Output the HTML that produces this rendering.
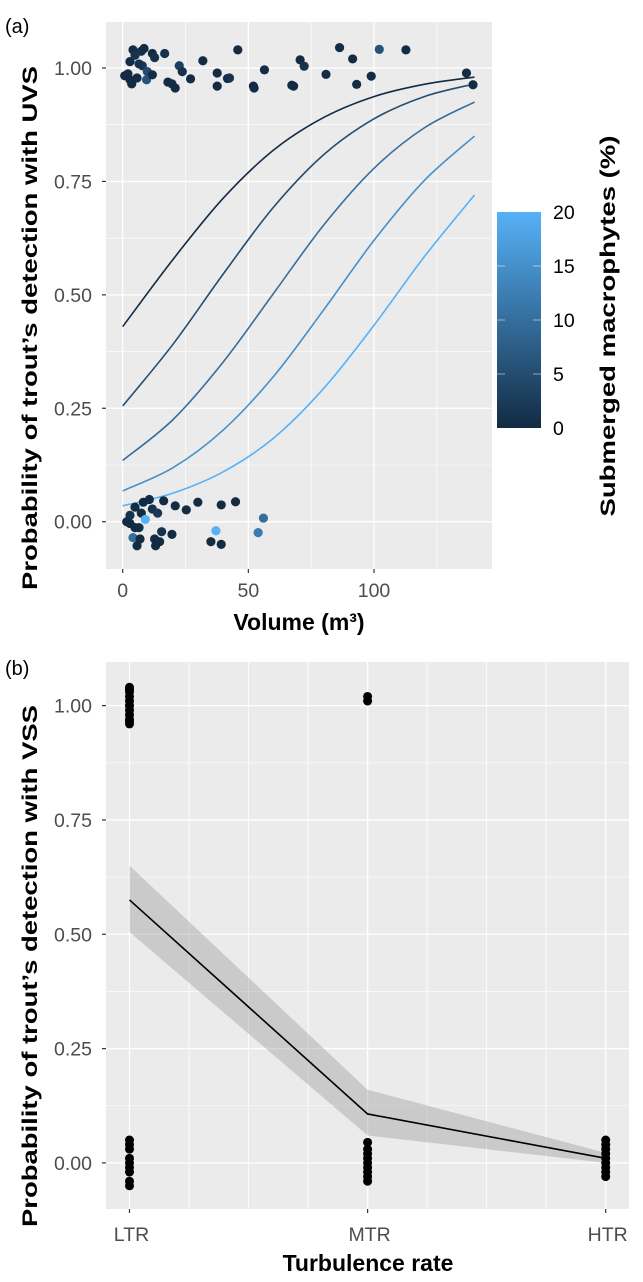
<!DOCTYPE html>
<html><head><meta charset="utf-8"><style>
html,body{margin:0;padding:0;background:#fff;}
svg{display:block;font-family:"Liberation Sans",Arial,sans-serif;}
</style></head><body>
<svg id="fig" width="643" height="1282" viewBox="0 0 643 1282">
<defs><linearGradient id="cg" x1="0" y1="1" x2="0" y2="0"><stop offset="0" stop-color="#132B43"/><stop offset="1" stop-color="#56B1F7"/></linearGradient></defs>
<g id="pa"></g>
<g id="pb"></g>
</svg>
<script>
// ---- Panel A data ----
const curveVolumes=[0,20,40,60,80,100,120,140];
const curveMacro=[0,5,10,15,20];
const curve0=[0.43,0.578,0.713,0.819,0.891,0.937,0.964,0.980];
const curve5=[0.255,0.391,0.546,0.693,0.809,0.888,0.937,0.965];
const curve10=[0.135,0.225,0.352,0.503,0.654,0.779,0.868,0.925];
const curve15=[0.068,0.119,0.202,0.320,0.467,0.620,0.752,0.850];
const curve20=[0.035,0.063,0.110,0.184,0.294,0.433,0.584,0.720];
const ptVolume=[2.1,2.9,4.1,4.9,2.9,3.6,7.4,8.5,7.8,9.8,9.5,11.8,12.7,11.8,16.7,18.0,19.6,20.9,22.5,23.7,27.0,31.9,37.6,37.6,41.7,42.5,45.8,52.0,52.3,56.4,67.3,68.0,70.6,72.2,80.9,86.3,91.5,93.1,98.9,102.1,112.7,136.8,139.4,5.7,6.5,0.8,
1.6,2.9,4.1,4.9,5.7,6.5,6.9,7.4,8.2,9.0,10.6,11.8,12.7,13.1,13.9,14.7,15.5,16.3,19.6,20.9,25.3,29.9,35.1,37.1,39.2,39.2,44.9,53.9,56.0,2.9,4.9];
const ptProb=[0.987,1.014,1.040,1.028,0.974,0.965,1.037,1.043,1.005,0.992,0.974,1.032,1.023,0.985,1.032,0.969,0.965,0.956,1.005,0.992,0.976,1.016,0.989,0.960,0.977,0.978,1.040,0.960,0.956,0.996,0.962,0.960,1.018,1.004,0.986,1.045,1.020,0.964,0.982,1.041,1.040,0.989,0.963,0.978,1.009,0.983,
0.000,-0.004,-0.035,0.032,-0.053,-0.013,-0.038,0.019,0.043,0.005,0.049,0.028,-0.038,-0.053,0.019,-0.044,-0.022,0.046,-0.028,0.035,0.026,0.043,-0.044,-0.020,0.037,-0.050,0.044,-0.024,0.008,0.014,-0.013];
const ptMacro=[0,0,0,1,0,0,1,0,2,5,6,0,1,0,1,0,0,0,3,1,0,0,0,0,0,1,0,0,0,0,0,0,0,1,0,0,0,0,0,6,0,0,0,0,1,0,
0,0,10,0,0,1,0,0,0,20,0,1,0,0,2,0,1,0,0,0,0,0,0,20,0,0,0,12,10,1,0];
const aYTicks=[0,0.25,0.5,0.75,1];
const aYLabels=["0.00","0.25","0.50","0.75","1.00"];
const aXTicks=[0,50,100];
const aXLabels=["0","50","100"];
const legendTicks=[0,5,10,15,20];

// ---- Panel B data ----
const bCategories=["LTR","MTR","HTR"];
const bFit=[0.575,0.107,0.01];
const bLower=[0.505,0.06,0.0];
const bUpper=[0.65,0.16,0.022];
const bPtCat=[0,0,0,0,0,0,0,0,0,0,0,0,0,0,0,0,0,0,0,0,1,1,1,1,1,1,1,1,1,1,1,2,2,2,2,2,2,2,2,2];
const bPtProb=[0.96,0.97,0.98,0.99,1.0,1.01,1.02,1.03,1.04,0.965,1.035,-0.05,-0.04,-0.02,-0.01,0.0,0.01,0.03,0.04,0.05,1.01,1.02,-0.04,-0.03,-0.02,-0.01,0.0,0.01,0.02,0.03,0.045,-0.03,-0.02,-0.01,0.0,0.01,0.02,0.03,0.04,0.05];
const bYTicks=[0,0.25,0.5,0.75,1];

const NS="http://www.w3.org/2000/svg";
function mk(parent,tag,attrs,text){const e=document.createElementNS(NS,tag);for(const k in attrs)e.setAttribute(k,attrs[k]);if(text!==undefined)e.textContent=text;parent.appendChild(e);return e;}
function lerpColor(m){const a=[0x13,0x2B,0x43],b=[0x56,0xB1,0xF7];const t=Math.max(0,Math.min(1,m/20));return "rgb("+a.map((v,i)=>Math.round(v+(b[i]-v)*t)).join(",")+")";}
function smoothPath(pts){let d="M"+pts[0][0]+","+pts[0][1];for(let i=0;i<pts.length-1;i++){const p0=pts[i-1]||pts[i],p1=pts[i],p2=pts[i+1],p3=pts[i+2]||p2;const c1=[p1[0]+(p2[0]-p0[0])/6,p1[1]+(p2[1]-p0[1])/6],c2=[p2[0]-(p3[0]-p1[0])/6,p2[1]-(p3[1]-p1[1])/6];d+=" C"+c1+" "+c2+" "+p2;}return d;}
const TFS=19.5;

// ===== Panel A =====
(function(){
const g=document.getElementById('pa');
const L=106,R=492,T=22,B=569;
const x=v=>122.7+v*(374-122.7)/100;
const y=p=>521.7-p*(521.7-68)/1;
let e=mk(g,'rect',{x:L,y:T,width:R-L,height:B-T,fill:'#EBEBEB'});

[0.125,0.375,0.625,0.875].forEach(v=>{e=mk(g,'line',{x1:L,x2:R,y1:y(v),y2:y(v),stroke:'#fff','stroke-width':0.6});});
[25,75,125].forEach(v=>{e=mk(g,'line',{x1:x(v),x2:x(v),y1:T,y2:B,stroke:'#fff','stroke-width':0.6});});
aYTicks.forEach((v,i)=>{
 e=mk(g,'line',{x1:L,x2:R,y1:y(v),y2:y(v),stroke:'#fff','stroke-width':1.3});
 e=mk(g,'line',{x1:L-4,x2:L,y1:y(v),y2:y(v),stroke:'#333','stroke-width':1.2});
 e=mk(g,'text',{x:L-14,y:y(v)+7,'text-anchor':'end','font-size':TFS,fill:'#4D4D4D'},aYLabels[i]);
});
aXTicks.forEach((v,i)=>{
 e=mk(g,'line',{x1:x(v),x2:x(v),y1:T,y2:B,stroke:'#fff','stroke-width':1.3});
 e=mk(g,'line',{x1:x(v),x2:x(v),y1:B,y2:B+4,stroke:'#333','stroke-width':1.2});
 e=mk(g,'text',{x:x(v),y:597,'text-anchor':'middle','font-size':TFS,fill:'#4D4D4D'},aXLabels[i]);
});
const curves=[curve0,curve5,curve10,curve15,curve20];
curves.forEach((c,ci)=>{
 const pts=curveVolumes.map((v,i)=>[x(v),y(c[i])]);
 e=mk(g,'path',{d:smoothPath(pts),fill:'none',stroke:lerpColor(curveMacro[ci]),'stroke-width':1.6});
 
});
ptVolume.forEach((v,i)=>{
 e=mk(g,'circle',{cx:x(v),cy:y(ptProb[i]),r:4.6,fill:lerpColor(ptMacro[i])});
 
});
e=mk(g,'text',{x:299,y:630,'text-anchor':'middle','font-size':23,'font-weight':'bold',fill:'#000'},'Volume (m³)');

e=mk(g,'text',{x:0,y:0,transform:'translate(37,328) rotate(-90)','text-anchor':'middle','font-size':21,'font-weight':'bold',fill:'#000',textLength:524,lengthAdjust:'spacingAndGlyphs'},'Probability of trout’s detection with UVS');

e=mk(g,'text',{x:5,y:33,'font-size':20,fill:'#000'},'(a)');

// legend
const ly=m=>428-m*(428-212)/20;
e=mk(g,'rect',{x:497,y:212,width:44,height:216,fill:'url(#cg)'});

legendTicks.forEach(m=>{
 if(m>0&&m<20){e=mk(g,'line',{x1:497,x2:505,y1:ly(m),y2:ly(m),stroke:'#fff','stroke-opacity':0.5,'stroke-width':1});
 e=mk(g,'line',{x1:533,x2:541,y1:ly(m),y2:ly(m),stroke:'#fff','stroke-opacity':0.5,'stroke-width':1});}
 e=mk(g,'text',{x:553,y:ly(m)+7,'font-size':TFS,fill:'#000'},String(m));
 
});
e=mk(g,'text',{x:0,y:0,transform:'translate(615,326) rotate(-90)','text-anchor':'middle','font-size':21,'font-weight':'bold',fill:'#000',textLength:381,lengthAdjust:'spacingAndGlyphs'},'Submerged macrophytes (%)');

})();

// ===== Panel B =====
(function(){
const g=document.getElementById('pb');
const L=106,R=629,T=662,B=1209;
const x=c=>129.5+c*(605.7-129.5)/2;
const y=p=>1162.9-p*(1162.9-705.6);
let e=mk(g,'rect',{x:L,y:T,width:R-L,height:B-T,fill:'#EBEBEB'});

[0.125,0.375,0.625,0.875].forEach(v=>{e=mk(g,'line',{x1:L,x2:R,y1:y(v),y2:y(v),stroke:'#fff','stroke-width':0.6});});
[0.25,0.5,0.75,1.25,1.5,1.75].forEach(v=>{e=mk(g,'line',{x1:x(v),x2:x(v),y1:T,y2:B,stroke:'#fff','stroke-width':0.8});});
bYTicks.forEach(v=>{
 e=mk(g,'line',{x1:L,x2:R,y1:y(v),y2:y(v),stroke:'#fff','stroke-width':1.3});
 e=mk(g,'line',{x1:L-4,x2:L,y1:y(v),y2:y(v),stroke:'#333','stroke-width':1.2});
 e=mk(g,'text',{x:L-14,y:y(v)+7,'text-anchor':'end','font-size':TFS,fill:'#4D4D4D'},v.toFixed(2));
});
bCategories.forEach((c,i)=>{
 e=mk(g,'line',{x1:x(i),x2:x(i),y1:T,y2:B,stroke:'#fff','stroke-width':1.3});
 e=mk(g,'line',{x1:x(i),x2:x(i),y1:B,y2:B+4,stroke:'#333','stroke-width':1.2});
 e=mk(g,'text',{x:x(i)+2,y:1241,'text-anchor':'middle','font-size':TFS,fill:'#4D4D4D'},c);
});
let d="M"+bCategories.map((c,i)=>x(i)+","+y(bUpper[i])).join(" L");
d+=" L"+bCategories.map((c,i)=>x(i)+","+y(bLower[i])).reverse().join(" L")+" Z";
e=mk(g,'path',{d:d,fill:'#999','fill-opacity':0.4});

bPtCat.forEach((c,i)=>{
 e=mk(g,'circle',{cx:x(c),cy:y(bPtProb[i]),r:4.5,fill:'#000'});
 
});
e=mk(g,'polyline',{points:bCategories.map((c,i)=>x(i)+","+y(bFit[i])).join(" "),fill:'none',stroke:'#000','stroke-width':1.6});

e=mk(g,'text',{x:368,y:1271,'text-anchor':'middle','font-size':23,'font-weight':'bold',fill:'#000'},'Turbulence rate');

e=mk(g,'text',{x:0,y:0,transform:'translate(37,966) rotate(-90)','text-anchor':'middle','font-size':21,'font-weight':'bold',fill:'#000',textLength:522,lengthAdjust:'spacingAndGlyphs'},'Probability of trout’s detection with VSS');

e=mk(g,'text',{x:5,y:675,'font-size':20,fill:'#000'},'(b)');

})();
</script>
</body></html>
